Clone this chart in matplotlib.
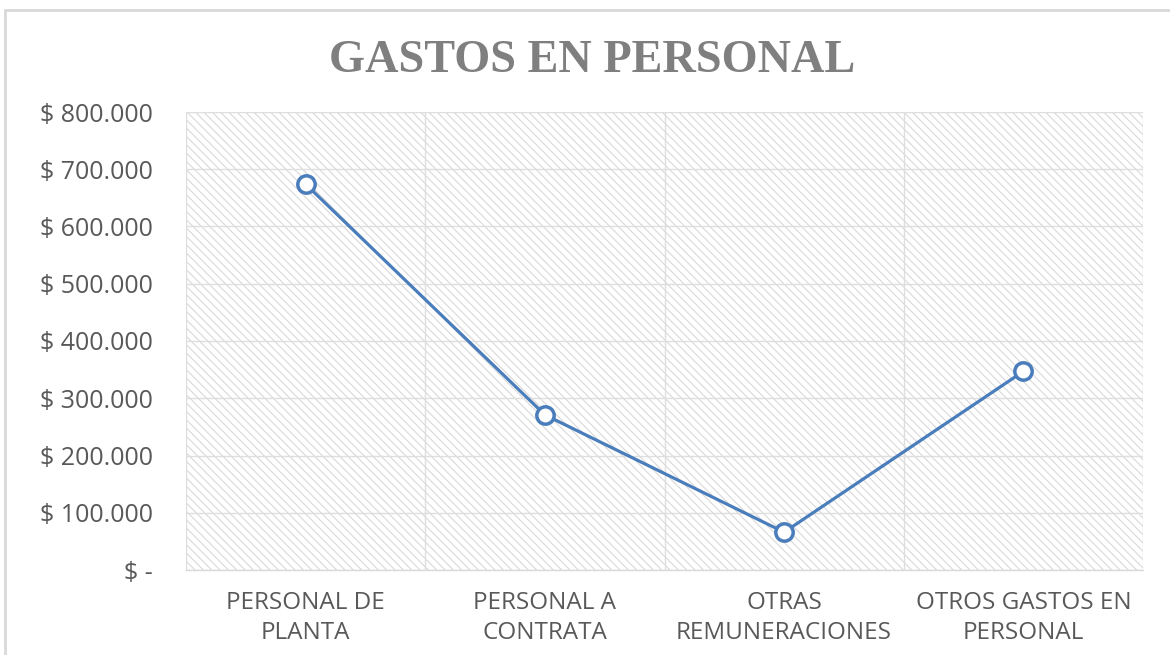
import matplotlib
matplotlib.use("Agg")
import matplotlib.pyplot as plt
from matplotlib.patches import Rectangle

categories = ["PERSONAL DE\nPLANTA", "PERSONAL A\nCONTRATA", "OTRAS\nREMUNERACIONES", "OTROS GASTOS EN\nPERSONAL"]
values = [674000, 271000, 66000, 347000]
yticks = [0, 100000, 200000, 300000, 400000, 500000, 600000, 700000, 800000]
ytick_labels = ["$ -", "$ 100.000", "$ 200.000", "$ 300.000", "$ 400.000",
                "$ 500.000", "$ 600.000", "$ 700.000", "$ 800.000"]
title = "GASTOS EN PERSONAL"

plt.rcParams['hatch.color'] = '#d4d4d4'
plt.rcParams['hatch.linewidth'] = 0.7

fig = plt.figure(figsize=(11.7, 6.55), dpi=100)
fig.patch.set_facecolor('white')
# outer chart border
fig.add_artist(Rectangle((5/1170, -0.01), 1.02, 1 - 10/655 + 0.01, transform=fig.transFigure,
                         fill=False, edgecolor='#d9d9d9', linewidth=2))

ax = fig.add_axes([186/1170, 85/655, (1143-186)/1170, (570-112)/655])
ax.patch.set_facecolor('white')
ax.patch.set_hatch('\\' * 4)
ax.patch.set_edgecolor('#d4d4d4')
ax.patch.set_linewidth(0)

x = list(range(len(categories)))
ax.plot(x, values, color='#4a7dbb', linewidth=2.3, marker='o', markersize=12.5,
        markerfacecolor='white', markeredgecolor='#4a7dbb', markeredgewidth=2.5, zorder=5)

ax.set_xlim(-0.5, len(categories) - 0.5)
ax.set_ylim(0, 800000)
ax.set_yticks(yticks)
ax.set_yticklabels(ytick_labels, fontsize=18, color='#595959', family='Open Sans')
ax.set_xticks(x)
ax.set_xticklabels(categories, fontsize=17.5, color='#595959', family='Open Sans', linespacing=1.32)
ax.set_xticks([i + 0.5 for i in range(-1, len(categories))], minor=True)
ax.tick_params(axis='both', which='both', length=0)
ax.tick_params(axis='y', pad=24)
ax.tick_params(axis='x', pad=15)
ax.grid(axis='y', which='major', color='#dedede', linewidth=1)
ax.grid(axis='x', which='minor', color='#dedede', linewidth=1)
ax.set_axisbelow(True)
for s in ['top', 'right', 'left']:
    ax.spines[s].set_visible(False)
ax.spines['bottom'].set_color('#d9d9d9')
ax.spines['bottom'].set_linewidth(1)

fig.text(592/1170, 583/655, title, ha='center', va='baseline', fontsize=33.3,
         fontweight='bold', color='#7f7f7f', family='Liberation Serif')

fig.savefig('out.png', dpi=100)
